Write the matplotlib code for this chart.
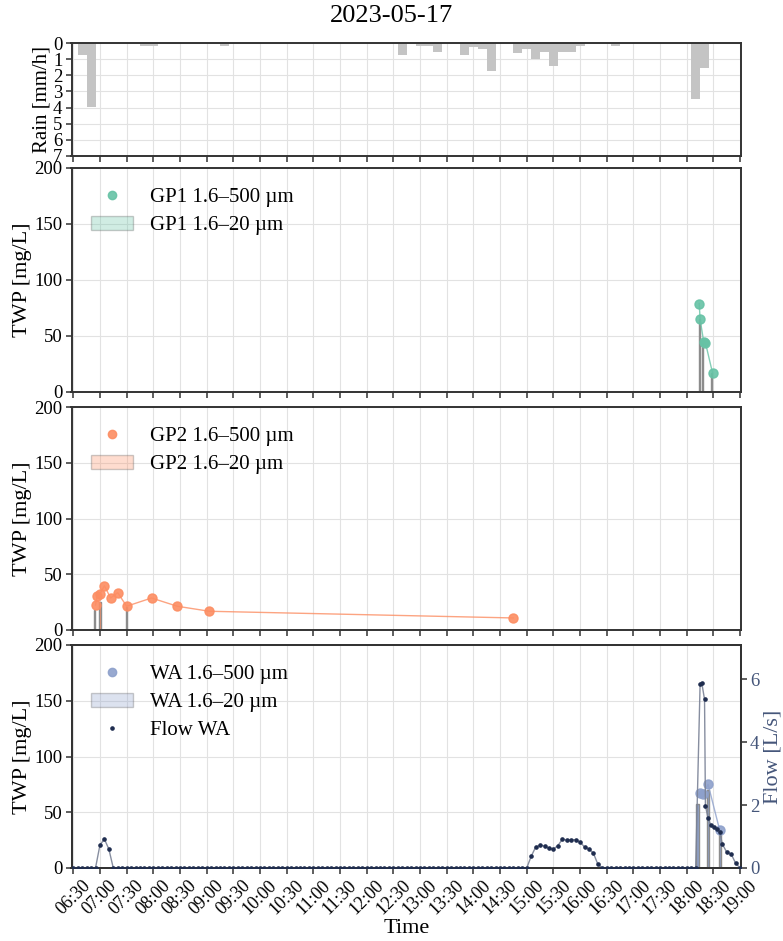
import matplotlib
matplotlib.use("Agg")
import matplotlib.pyplot as plt
import matplotlib.dates as mdates
from matplotlib.patches import Patch
from matplotlib.lines import Line2D
import pandas as pd

plt.rcParams['font.family'] = ['Liberation Serif', 'DejaVu Serif']

DAY = "2023-05-17"

# ---------------- data ----------------
rain_time = ["06:40", "06:50", "07:50", "08:00", "08:20", "09:20", "12:40", "13:00", "13:10",
             "13:20", "13:50", "14:00", "14:10", "14:20", "14:50", "15:00", "15:10", "15:20",
             "15:30", "15:40", "15:50", "16:00", "16:40", "18:10", "18:20"]
rain_mm_h = [0.77, 3.97, 0.17, 0.17, 0.06, 0.17, 0.77, 0.17, 0.17,
             0.58, 0.77, 0.25, 0.37, 1.76, 0.62, 0.37, 0.97, 0.58,
             1.45, 0.56, 0.56, 0.17, 0.17, 3.46, 1.55]

gp1_time_500 = ["18:14", "18:15", "18:19", "18:21", "18:29"]
gp1_val_500 = [79, 65, 45, 44, 17]
gp1_time_20 = ["18:14", "18:18", "18:28"]
gp1_val_20 = [65, 44, 17]

gp2_time_500 = ["06:55", "06:57", "07:00", "07:05", "07:12", "07:20", "07:30", "07:58",
                "08:27", "09:03", "14:45"]
gp2_val_500 = [22.4, 30.8, 32.3, 39.7, 28.7, 33.5, 21.3, 28.7, 21.3, 16.8, 10.8]
gp2_time_20 = ["06:54", "07:00", "07:30"]
gp2_val_20 = [18, 25, 21]

wa_time_500 = ["18:15", "18:18", "18:24", "18:37"]
wa_val_500 = [67, 66, 75, 34]
wa_time_20 = ["18:12", "18:24", "18:37"]
wa_val_20 = [57, 70, 34]

# flow WA: 5-min record 06:30 - 18:10 (one row per hour), then storm record
flow_5min_start = "06:30"
flow_5min_vals = [
    0, 0, 0, 0, 0, 0, 0.73, 0.92, 0.60, 0, 0, 0,             # 06:30-07:25
    0, 0, 0, 0, 0, 0, 0, 0, 0, 0, 0, 0,                      # 07:30-08:25
    0, 0, 0, 0, 0, 0, 0, 0, 0, 0, 0, 0,                      # 08:30-09:25
    0, 0, 0, 0, 0, 0, 0, 0, 0, 0, 0, 0,                      # 09:30-10:25
    0, 0, 0, 0, 0, 0, 0, 0, 0, 0, 0, 0,                      # 10:30-11:25
    0, 0, 0, 0, 0, 0, 0, 0, 0, 0, 0, 0,                      # 11:30-12:25
    0, 0, 0, 0, 0, 0, 0, 0, 0, 0, 0, 0,                      # 12:30-13:25
    0, 0, 0, 0, 0, 0, 0, 0, 0, 0, 0, 0,                      # 13:30-14:25
    0, 0, 0, 0, 0, 0, 0, 0.37, 0.66, 0.72, 0.70, 0.62,       # 14:30-15:25
    0.60, 0.71, 0.91, 0.89, 0.89, 0.90, 0.82, 0.67, 0.60, 0.47, 0.12, 0,  # 15:30-16:25
    0, 0, 0, 0, 0, 0, 0, 0, 0, 0, 0, 0,                      # 16:30-17:25
    0, 0, 0, 0, 0, 0, 0, 0, 0,                               # 17:30-18:10
]
flow_storm_time = ["18:15", "18:17", "18:20", "18:21", "18:24", "18:27", "18:31", "18:34",
                   "18:37", "18:40", "18:45", "18:50", "18:55", "19:00"]
flow_storm_vals = [5.84, 5.86, 5.35, 1.97, 1.58, 1.36, 1.29, 1.24,
                   1.15, 0.76, 0.50, 0.44, 0.15, 0.0]

xtick_fmt = "%H:%M"
x_start, x_end = "06:28", "19:01"

# ---------------- styling ----------------
C_GP1 = "#66c2a5"
C_GP2 = "#fc8d62"
C_WA = "#8da0cb"
C_FLOW = "#1f2d4f"
C_FLOW_LINE = "#7a8296"
C_FLOW_AX = "#45567a"
SPINE = "#333333"
FS_TICK = 13.5
FS_LAB = 16
FS_RAIN = 15
FS_LEG = 15
FS_TITLE = 19


def T(lst):
    return pd.to_datetime([f"{DAY} {t}" for t in lst])


fig = plt.figure(figsize=(7.83, 9.41), dpi=100)
L = 71.5 / 783
W = (741 - 71.5) / 783


def box(top, bot):
    return [L, 1 - bot / 941, W, (bot - top) / 941]


ax_r = fig.add_axes(box(43, 156))
ax1 = fig.add_axes(box(168, 392), sharex=ax_r)
ax2 = fig.add_axes(box(407, 630), sharex=ax_r)
ax3 = fig.add_axes(box(645, 868), sharex=ax_r)

for ax in (ax_r, ax1, ax2, ax3):
    ax.grid(True, color="#e2e2e2", lw=0.8)
    ax.set_axisbelow(True)
    for s in ax.spines.values():
        s.set_color(SPINE)
        s.set_linewidth(1.4)
    ax.tick_params(direction="out", length=4, width=1.1, color=SPINE, labelsize=FS_TICK, pad=2.5)

# rain
ax_r.bar(T(rain_time), rain_mm_h, width=10 / 1440, color="#c4c4c4", align="center", zorder=2)
ax_r.set_ylim(7, 0)
ax_r.set_yticks(range(0, 8))
ax_r.set_ylabel("Rain [mm/h]", fontsize=FS_RAIN, labelpad=1)

LEG_KW = dict(loc="upper left", frameon=False, fontsize=FS_LEG,
              borderaxespad=0.55, labelspacing=0.4)


def panel(ax, c, t500, v500, t20, v20, bw, name):
    ax.bar(T(t20), v20, width=bw / 1440, facecolor=c, edgecolor="#8c8c8c",
           linewidth=1.0, zorder=2)
    ax.plot(T(t500), v500, color=c, lw=1.0, alpha=0.8, zorder=3)
    ax.plot(T(t500), v500, ls="", marker="o", ms=6.5, color=c, alpha=0.9, zorder=4)
    ax.set_ylim(0, 200)
    ax.set_yticks([0, 50, 100, 150, 200])
    ax.set_ylabel("TWP [mg/L]", fontsize=FS_LAB, labelpad=2)
    h = [Line2D([], [], ls="", marker="o", ms=6, color=c, alpha=0.9),
         Patch(facecolor=c, alpha=0.3, edgecolor="#555555", linewidth=1.0)]
    lab = [f"{name} 1.6–500 µm", f"{name} 1.6–20 µm"]
    return h, lab


h1, l1 = panel(ax1, C_GP1, gp1_time_500, gp1_val_500, gp1_time_20, gp1_val_20, 1.6, "GP1")
ax1.legend(h1, l1, **LEG_KW)
h2, l2 = panel(ax2, C_GP2, gp2_time_500, gp2_val_500, gp2_time_20, gp2_val_20, 1.6, "GP2")
ax2.legend(h2, l2, **LEG_KW)
h3, l3 = panel(ax3, C_WA, wa_time_500, wa_val_500, wa_time_20, wa_val_20, 2.6, "WA")

# flow
ax3b = ax3.twinx()
flow_t = list(pd.date_range(f"{DAY} {flow_5min_start}", periods=len(flow_5min_vals), freq="5min")) \
    + list(T(flow_storm_time))
flow_v = list(flow_5min_vals) + list(flow_storm_vals)
ax3b.plot(flow_t, flow_v, color=C_FLOW_LINE, lw=1.0, alpha=0.9, zorder=2)
ax3b.plot(flow_t, flow_v, ls="", marker="o", ms=2.3, color=C_FLOW, zorder=3)
ax3b.set_ylim(0, 7.08)
ax3b.set_yticks([0, 2, 4, 6])
ax3b.set_ylabel("Flow [L/s]", fontsize=FS_LAB, color=C_FLOW_AX, labelpad=3)
ax3b.tick_params(axis="y", direction="out", length=4, width=1.1, color=SPINE,
                 labelsize=FS_TICK, labelcolor=C_FLOW_AX, pad=2.5)
for s in ax3b.spines.values():
    s.set_color(SPINE)
    s.set_linewidth(1.4)

h3.append(Line2D([], [], ls="", marker="o", ms=2.3, color=C_FLOW))
l3.append("Flow WA")
ax3.legend(h3, l3, **LEG_KW)

# x axis
ax3.set_xlim(pd.Timestamp(f"{DAY} {x_start}"), pd.Timestamp(f"{DAY} {x_end}"))
ax3.xaxis.set_major_locator(mdates.MinuteLocator(byminute=[0, 30]))
ax3.xaxis.set_major_formatter(mdates.DateFormatter(xtick_fmt))
for ax in (ax_r, ax1, ax2):
    ax.tick_params(axis="x", labelbottom=False)
plt.setp(ax3.get_xticklabels(), rotation=45, ha="center", fontsize=13)
ax3.set_xlabel("Time", fontsize=FS_LAB, labelpad=1)

fig.text(0.5, 1 - 16 / 941, DAY, ha="center", va="center", fontsize=FS_TITLE)

fig.savefig("out.png", dpi=100)
